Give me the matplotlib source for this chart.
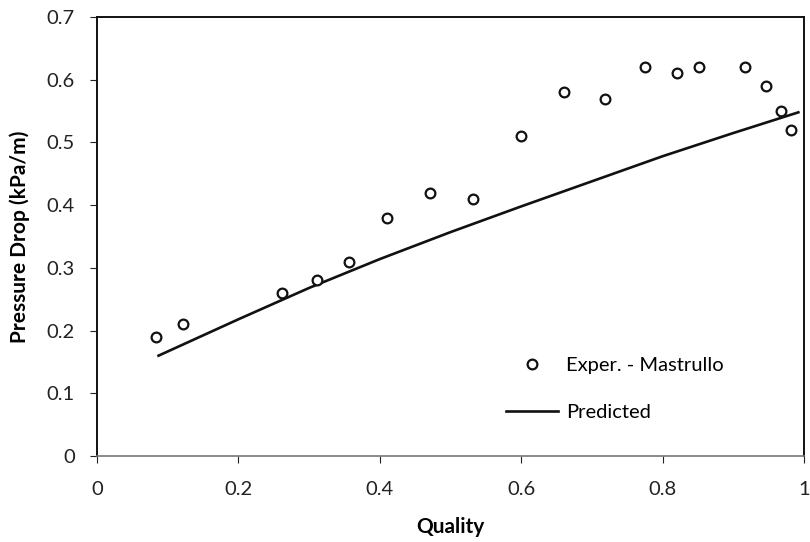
import matplotlib
matplotlib.use("Agg")
import matplotlib.pyplot as plt

plt.rcParams['font.family'] = ['Lato', 'DejaVu Sans']

# Experimental data (Mastrullo)
exp_quality = [0.083, 0.122, 0.261, 0.311, 0.356, 0.41, 0.471, 0.532, 0.599,
               0.661, 0.718, 0.775, 0.821, 0.851, 0.917, 0.946, 0.968, 0.982]
exp_dp = [0.19, 0.21, 0.26, 0.28, 0.31, 0.38, 0.42, 0.41, 0.51,
          0.58, 0.57, 0.62, 0.61, 0.62, 0.62, 0.59, 0.55, 0.52]

# Predicted curve
pred_quality = [0.087, 0.2, 0.3, 0.4, 0.5, 0.6, 0.7, 0.8, 0.9, 0.992]
pred_dp = [0.160, 0.218, 0.268, 0.314, 0.357, 0.398, 0.438, 0.478, 0.515, 0.548]

xticks = [0, 0.2, 0.4, 0.6, 0.8, 1]
xticklabels = ["0", "0.2", "0.4", "0.6", "0.8", "1"]
yticks = [0, 0.1, 0.2, 0.3, 0.4, 0.5, 0.6, 0.7]
yticklabels = ["0", "0.1", "0.2", "0.3", "0.4", "0.5", "0.6", "0.7"]

fig = plt.figure(figsize=(8.1, 5.42), dpi=100)
ax = fig.add_axes([0.1198, 0.1587, 0.8728, 0.8099])

ax.plot(exp_quality, exp_dp, linestyle='none', marker='o', markersize=7,
        markerfacecolor='white', markeredgecolor='#111111', markeredgewidth=1.6,
        label='Exper. - Mastrullo', zorder=3)
ax.plot(pred_quality, pred_dp, color='#111111', linewidth=1.9, label='Predicted', zorder=2)

ax.set_xlim(0, 1)
ax.set_ylim(0, 0.7)
ax.set_xticks(xticks)
ax.set_xticklabels(xticklabels)
ax.set_yticks(yticks)
ax.set_yticklabels(yticklabels)
ax.tick_params(axis='both', labelsize=14.5, colors='#222222', length=5, width=0.8)
ax.tick_params(axis='y', pad=11)
ax.tick_params(axis='x', pad=13)

for s in ['top', 'right', 'left']:
    ax.spines[s].set_color('#111111')
    ax.spines[s].set_linewidth(1.4)
ax.spines['bottom'].set_color('#777777')
ax.spines['bottom'].set_linewidth(1.2)

ax.set_xlabel('Quality', fontsize=15, fontweight='bold', labelpad=14)
ax.set_ylabel('Pressure Drop (kPa/m)', fontsize=15, fontweight='bold', labelpad=12)

leg = ax.legend(loc='upper left', bbox_to_anchor=(0.567, 0.245), frameon=False,
                fontsize=14.5, handlelength=2.6, handletextpad=0.4, labelspacing=1.5,
                borderaxespad=0)

fig.savefig('out.png', dpi=100)
